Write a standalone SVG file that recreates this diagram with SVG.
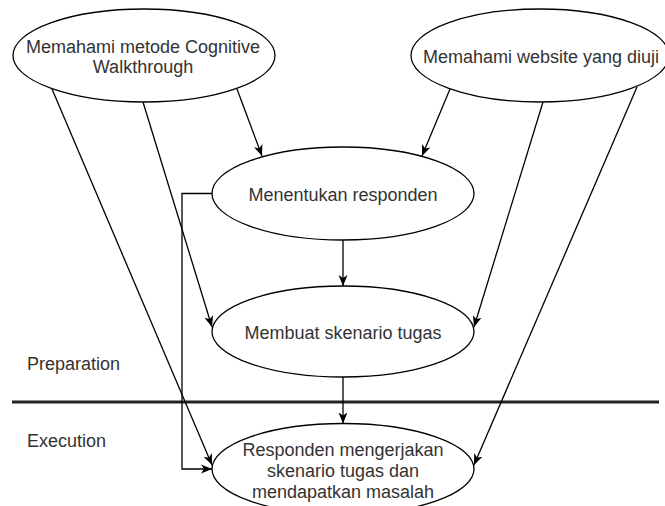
<svg xmlns="http://www.w3.org/2000/svg" width="665" height="506" viewBox="0 0 665 506">
  <style>
    .node { fill: #ffffff; stroke: #000000; stroke-width: 1.3; }
    .edge { fill: none; stroke: #000000; stroke-width: 1.3; }
    .lbl { font-family: "Liberation Sans", Arial, sans-serif; font-size: 18px; fill: #333333; text-anchor: middle; }
    .side { font-family: "Liberation Sans", Arial, sans-serif; font-size: 18px; fill: #333333; }
  </style>
  <defs>
    <marker id="arrow" markerUnits="userSpaceOnUse" markerWidth="12" markerHeight="10" refX="11" refY="5" orient="auto">
      <path d="M0,0.5 L11,5 L0,9.5 L3,5 Z" fill="#000000"/>
    </marker>
  </defs>
  <rect width="665" height="506" fill="#ffffff"/>

  <g id="divider">
    <line x1="12" y1="402" x2="659" y2="402" stroke="#222222" stroke-width="3"/>
    <text class="side" x="27" y="370">Preparation</text>
    <text class="side" x="27" y="447">Execution</text>
  </g>

  <g id="connectors">
    <line class="edge" x1="237" y1="89" x2="262" y2="156" marker-end="url(#arrow)"/>
    <line class="edge" x1="450" y1="89" x2="422" y2="156" marker-end="url(#arrow)"/>
    <line class="edge" x1="343" y1="240" x2="343" y2="286" marker-end="url(#arrow)"/>
    <line class="edge" x1="143" y1="102" x2="212" y2="327" marker-end="url(#arrow)"/>
    <line class="edge" x1="543" y1="102" x2="474" y2="327" marker-end="url(#arrow)"/>
    <line class="edge" x1="343" y1="377" x2="343" y2="423.5" marker-end="url(#arrow)"/>
    <line class="edge" x1="52" y1="89" x2="212" y2="465" marker-end="url(#arrow)"/>
    <line class="edge" x1="637" y1="87" x2="474" y2="465" marker-end="url(#arrow)"/>
    <polyline class="edge" points="212,193.5 182,193.5 182,469 212,469" marker-end="url(#arrow)"/>
  </g>

  <g id="node-cognitive">
    <ellipse class="node" cx="144" cy="55.5" rx="131" ry="46.5"/>
    <text class="lbl" x="143" y="53">Memahami metode Cognitive</text>
    <text class="lbl" x="143" y="73">Walkthrough</text>
  </g>
  <g id="node-website">
    <ellipse class="node" cx="540" cy="55.5" rx="129" ry="46.5"/>
    <text class="lbl" x="541" y="63">Memahami website yang diuji</text>
  </g>
  <g id="node-responden">
    <ellipse class="node" cx="343" cy="193.5" rx="131" ry="46.5"/>
    <text class="lbl" x="343" y="201">Menentukan responden</text>
  </g>
  <g id="node-skenario">
    <ellipse class="node" cx="343" cy="331.5" rx="131" ry="45.5"/>
    <text class="lbl" x="343" y="339">Membuat skenario tugas</text>
  </g>
  <g id="node-execution">
    <ellipse class="node" cx="343" cy="469" rx="131" ry="45.5"/>
    <text class="lbl" x="343" y="456">Responden mengerjakan</text>
    <text class="lbl" x="343" y="477">skenario tugas dan</text>
    <text class="lbl" x="343" y="498">mendapatkan masalah</text>
  </g>
</svg>
